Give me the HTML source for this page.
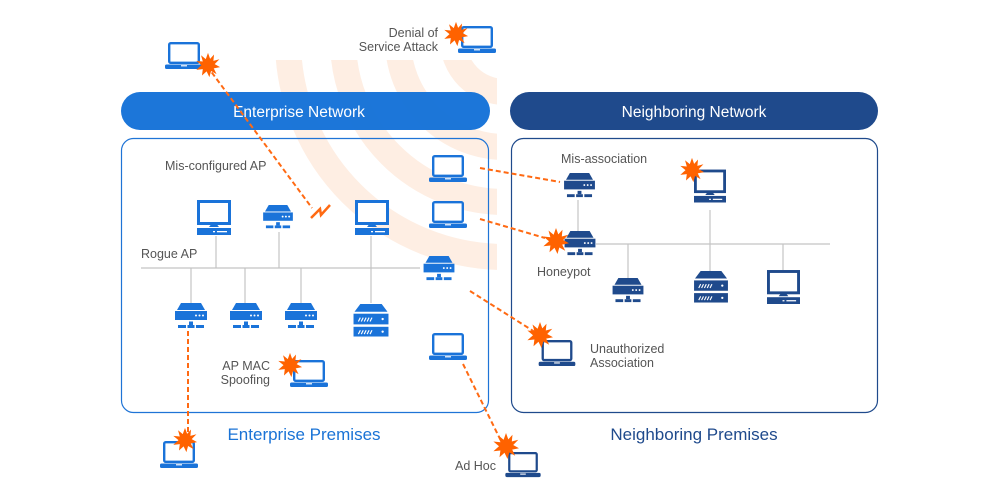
<!DOCTYPE html>
<html><head><meta charset="utf-8"><style>
html,body{margin:0;padding:0;background:#fff;}
svg{display:block;}
text{font-family:"Liberation Sans",sans-serif;}
</style></head><body>
<svg width="990" height="503" viewBox="0 0 990 503" xmlns="http://www.w3.org/2000/svg">
<defs>
<clipPath id="wc"><rect x="0" y="60" width="497" height="300"/></clipPath>
<symbol id="laptop" viewBox="0 0 38 28" overflow="visible">
 <rect x="4.2" y="1.2" width="29.6" height="19.6" rx="1.5" fill="#fff" stroke="currentColor" stroke-width="2.4"/>
 <rect x="0" y="22.5" width="38" height="4.5" rx="1.5" fill="currentColor"/>
 <rect x="16" y="23.2" width="6" height="1.2" fill="#fff"/>
</symbol>
<symbol id="desk" viewBox="0 0 34 36" overflow="visible">
 <rect x="1.5" y="1.5" width="31" height="22" fill="#fff" stroke="currentColor" stroke-width="3"/>
 <path d="M12 27 L14 24.5 H20 L22 27 Z" fill="currentColor"/>
 <rect x="0" y="28" width="34" height="7" fill="currentColor"/>
 <rect x="20" y="31" width="10" height="1.3" fill="#fff"/>
 <rect x="16" y="31" width="2" height="1.3" fill="#fff"/>
</symbol>
<symbol id="ap" viewBox="0 0 32 28" overflow="visible">
 <path d="M6 0 H26 L30 7 H2 Z" fill="currentColor"/>
 <rect x="0" y="8" width="32" height="9" fill="currentColor"/>
 <circle cx="21" cy="12.5" r="1" fill="#fff"/><circle cx="24.5" cy="12.5" r="1" fill="#fff"/><circle cx="28" cy="12.5" r="1" fill="#fff"/>
 <rect x="14" y="18.5" width="4" height="3.5" fill="currentColor"/>
 <rect x="3" y="22" width="8" height="3" fill="currentColor"/>
 <rect x="12.5" y="22" width="7" height="3" fill="currentColor"/>
 <rect x="21" y="22" width="8" height="3" fill="currentColor"/>
</symbol>
<symbol id="srv" viewBox="0 0 36 34" overflow="visible">
 <path d="M7 0 H29 L35 8 H1 Z" fill="currentColor"/>
 <rect x="0" y="10" width="36" height="11" fill="currentColor"/>
 <rect x="0" y="23.5" width="36" height="10" fill="currentColor"/>
 <path d="M5 18 l2 -4 M8 18 l2 -4 M11 18 l2 -4 M14 18 l2 -4 M17 18 l2 -4 M5 31 l2 -4 M8 31 l2 -4 M11 31 l2 -4 M14 31 l2 -4 M17 31 l2 -4" stroke="#fff" stroke-width="1.2"/>
 <circle cx="30" cy="15.5" r="1.2" fill="#fff"/><circle cx="30" cy="28.5" r="1.2" fill="#fff"/>
</symbol>
<symbol id="burst" viewBox="-14 -14 28 28" overflow="visible">
 <polygon fill="#ff6200" points="0,-13 2.3,-6.6 6.5,-11.3 5.8,-4.5 12.3,-6.2 7.2,-1 13,2.3 6.2,3.6 9.2,9.8 3.3,6.5 1.5,13 -1.5,6.8 -6.5,11.3 -5.6,4.5 -12.6,5.2 -7,0.2 -12.6,-4.5 -5.6,-3.8 -7.5,-10.5 -2.4,-6.3"/>
</symbol>
</defs>

<!-- wifi arcs -->
<g clip-path="url(#wc)" fill="none" stroke="#feeee3" stroke-width="26">
 <circle cx="505" cy="40" r="52"/>
 <circle cx="505" cy="40" r="107"/>
 <circle cx="505" cy="40" r="162"/>
 <circle cx="505" cy="40" r="217"/>
</g>

<!-- headers -->
<rect x="121" y="92" width="369" height="38" rx="19" fill="#1572d8" fill-opacity="0.97"/>
<text x="299" y="117" font-size="15.5" fill="#fff" text-anchor="middle">Enterprise Network</text>
<rect x="510" y="92" width="368" height="38" rx="19" fill="#1f4a8c"/>
<text x="694" y="117" font-size="15.5" fill="#fff" text-anchor="middle">Neighboring Network</text>

<!-- boxes -->
<rect x="121.5" y="138.5" width="367" height="274" rx="12" fill="none" stroke="#1f74d6" stroke-width="1.2"/>
<rect x="511.5" y="138.5" width="366" height="274" rx="12" fill="none" stroke="#1f4a8c" stroke-width="1.2"/>

<text x="304" y="440" font-size="17" fill="#1a73d6" text-anchor="middle">Enterprise Premises</text>
<text x="694" y="440" font-size="17" fill="#1f4a8c" text-anchor="middle">Neighboring Premises</text>

<!-- grey lines -->
<g stroke="#c4c4c4" stroke-width="1.2">
 <line x1="141" y1="268" x2="420" y2="268"/>
 <line x1="216" y1="236" x2="216" y2="268"/>
 <line x1="279" y1="232" x2="279" y2="268"/>
 <line x1="371" y1="236" x2="371" y2="268"/>
 <line x1="191" y1="268" x2="191" y2="303"/>
 <line x1="245" y1="268" x2="245" y2="303"/>
 <line x1="301" y1="268" x2="301" y2="303"/>
 <line x1="371" y1="268" x2="371" y2="303"/>
 <line x1="578" y1="200" x2="578" y2="232"/>
 <line x1="596" y1="244" x2="830" y2="244"/>
 <line x1="710" y1="210" x2="710" y2="272"/>
 <line x1="628" y1="244" x2="628" y2="278"/>
 <line x1="783" y1="244" x2="783" y2="270"/>
</g>

<!-- dashed orange -->
<g stroke="#ff6a13" stroke-width="2" stroke-dasharray="5,3" fill="none">
 <line x1="207" y1="66" x2="312" y2="208"/>
 <line x1="188" y1="331" x2="188" y2="440"/>
 <line x1="463" y1="364" x2="503" y2="445"/>
 <line x1="480" y1="168" x2="560" y2="182"/>
 <line x1="480" y1="219" x2="545" y2="238"/>
 <line x1="470" y1="291" x2="538" y2="334"/>
</g>
<path d="M311 218 L320 209 L321 215 L330 205" fill="none" stroke="#ff6a13" stroke-width="2.5"/>

<g color="#1a73d9">
 <use href="#laptop" x="165" y="42" width="38" height="28"/>
 <use href="#laptop" x="458" y="26" width="38" height="28"/>
 <use href="#desk" x="197" y="200" width="34" height="36"/>
 <use href="#ap" x="263" y="205" width="30" height="26"/>
 <use href="#desk" x="355" y="200" width="34" height="36"/>
 <use href="#laptop" x="429" y="155" width="38" height="28"/>
 <use href="#laptop" x="429" y="201" width="38" height="28"/>
 <use href="#ap" x="423" y="256" width="32" height="27"/>
 <use href="#ap" x="175" y="303" width="32" height="28"/>
 <use href="#ap" x="230" y="303" width="32" height="28"/>
 <use href="#ap" x="285" y="303" width="32" height="28"/>
 <use href="#srv" x="353" y="304" width="36" height="33"/>
 <use href="#laptop" x="429" y="333" width="38" height="28"/>
 <use href="#laptop" x="290" y="360" width="38" height="28"/>
 <use href="#laptop" x="160" y="441" width="38" height="28"/>
</g>
<g color="#1f4a8c">
 <use href="#ap" x="563" y="173" width="33" height="27"/>
 <use href="#ap" x="564" y="231" width="32" height="27"/>
 <use href="#desk" x="694" y="169" width="32" height="35"/>
 <use href="#ap" x="612" y="278" width="32" height="27"/>
 <use href="#srv" x="693" y="271" width="36" height="32"/>
 <use href="#desk" x="767" y="270" width="33" height="35"/>
 <use href="#laptop" x="538" y="340" width="38" height="27"/>
 <use href="#laptop" x="504" y="452" width="38" height="26"/>
</g>

<use href="#burst" x="195" y="52" width="26" height="26"/>
<use href="#burst" x="443" y="21" width="26" height="26"/>
<use href="#burst" x="277" y="352" width="26" height="26"/>
<use href="#burst" x="172" y="427" width="26" height="26"/>
<use href="#burst" x="492" y="432" width="28" height="28"/>
<use href="#burst" x="542" y="227" width="28" height="28"/>
<use href="#burst" x="679" y="157" width="26" height="26"/>
<use href="#burst" x="526" y="321" width="28" height="28"/>

<g font-size="12.5" fill="#555">
 <text x="438" y="37" text-anchor="end">Denial of</text>
 <text x="438" y="51" text-anchor="end">Service Attack</text>
 <text x="165" y="170">Mis-configured AP</text>
 <text x="141" y="258">Rogue AP</text>
 <text x="270" y="370" text-anchor="end">AP MAC</text>
 <text x="270" y="384" text-anchor="end">Spoofing</text>
 <text x="455" y="470">Ad Hoc</text>
 <text x="561" y="163">Mis-association</text>
 <text x="537" y="276">Honeypot</text>
 <text x="590" y="353">Unauthorized</text>
 <text x="590" y="367">Association</text>
</g>
</svg>
</body></html>
